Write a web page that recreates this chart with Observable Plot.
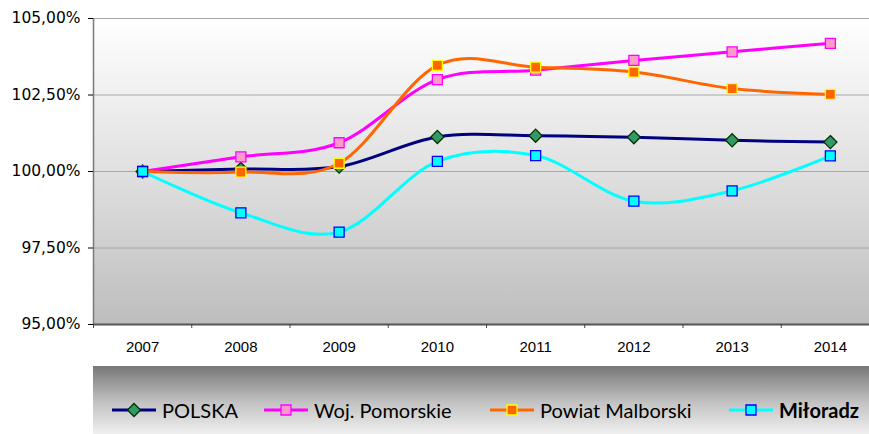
<!DOCTYPE html>
<html><head><meta charset="utf-8">
<script src="https://cdn.jsdelivr.net/npm/d3@7"></script>
<script src="https://cdn.jsdelivr.net/npm/@observablehq/plot@0.6"></script>
<style>
body{margin:0;background:#fff;width:869px;height:434px;overflow:hidden;position:relative;}
#chart{position:absolute;left:0;top:0;}
#legend{position:absolute;left:93px;top:366px;width:776px;height:68px;background:linear-gradient(#777777,#c4c4c4 55%,#efefef);}
.item{position:absolute;top:34px;height:20px;display:flex;align-items:center;font-family:Lato,"Open Sans",sans-serif;font-size:20px;color:#000;white-space:nowrap;}
.item svg{display:block;margin-right:5px;}
</style></head>
<body>
<div id="chart"></div>
<div id="legend"></div>
<script>
const years = [2007, 2008, 2009, 2010, 2011, 2012, 2013, 2014];
const seriesNames = ["POLSKA", "Woj. Pomorskie", "Powiat Malborski", "Miłoradz"];
const polska   = [100, 100.08, 100.16, 101.13, 101.17, 101.12, 101.02, 100.96];
const pomorskie = [100, 100.48, 100.94, 103.00, 103.31, 103.63, 103.91, 104.19];
const malborski = [100, 99.98, 100.27, 103.47, 103.41, 103.25, 102.71, 102.52];
const miloradz = [100, 98.65, 98.02, 100.33, 100.52, 99.03, 99.37, 100.51];
const yTicks = [95, 97.5, 100, 102.5, 105];

const values = [polska, pomorskie, malborski, miloradz];
const lineColors = ["#000080", "#ff00ff", "#ff6600", "#00ffff"];
const markerFill = ["#339966", "#ff99cc", "#ff6600", "#00ffff"];
const markerStroke = ["#003300", "#ff00ff", "#ffff00", "#0000ff"];
const markerSymbol = ["diamond2", "square", "square", "square"];
const markerR = [5.9, 5.64, 5.64, 5.64];

const rows = seriesNames.flatMap((s, i) => years.map((y, j) => ({series: s, year: y, value: values[i][j]})));
const halfYears = years.map(y => y - 0.5).concat([years[years.length - 1] + 0.5]);

const seriesMarks = seriesNames.flatMap((s, i) => {
  const d = rows.filter(r => r.series === s);
  return [
    Plot.line(d, {x: "year", y: "value", stroke: lineColors[i], strokeWidth: 3, curve: "cardinal"}),
    Plot.dot(d, {x: "year", y: "value", symbol: markerSymbol[i], r: markerR[i], fill: markerFill[i], stroke: markerStroke[i], strokeWidth: 1.3})
  ];
});

const chart = Plot.plot({
  width: 869, height: 366,
  marginLeft: 93, marginRight: 0, marginTop: 18, marginBottom: 42,
  x: {type: "linear", domain: [2006.5, 2014.5], range: [93, 879], label: null},
  y: {domain: [95, 105], label: null},
  style: {background: "transparent", color: "#000", overflow: "visible"},
  marks: [
    Plot.frame({fill: "url(#plotbg)", stroke: null}),
    Plot.ruleY(yTicks, {stroke: "#a8a8a8", strokeWidth: 1}),
    Plot.ruleX([2006.5], {stroke: "#7a7a7a", strokeWidth: 1.5}),
    Plot.ruleY([95], {stroke: "#555555", strokeWidth: 2}),
    Plot.axisY({ticks: yTicks, tickFormat: d => d.toFixed(2).replace(".", ",") + "%", tickSize: 5, tickPadding: 8,
      fontFamily: "DejaVu Sans", fontSize: 15.5, label: null}),
    Plot.axisX({ticks: years, tickFormat: d => String(d), tickSize: 0, tickPadding: 17,
      fontFamily: "Liberation Sans", fontSize: 15, label: null}),
    Plot.axisX({ticks: halfYears, tickFormat: () => "", tickSize: 4, stroke: "#444", label: null}),
    ...seriesMarks
  ]
});
d3.select(chart).insert("defs", ":first-child").html(
  '<linearGradient id="plotbg" x1="0" y1="0" x2="0" y2="1">' +
  '<stop offset="0" stop-color="#ffffff"/><stop offset="0.5" stop-color="#e0e0e0"/><stop offset="1" stop-color="#bdbdbd"/></linearGradient>');
document.getElementById("chart").append(chart);

// legend
const legendLeft = [18, 170, 396, 635];
const legend = d3.select("#legend");
seriesNames.forEach((s, i) => {
  const item = legend.append("div").attr("class", "item").style("left", legendLeft[i] + "px");
  const sw = item.append("svg").attr("width", 46).attr("height", 20);
  sw.append("line").attr("x1", 1).attr("x2", 45).attr("y1", 10).attr("y2", 10)
    .attr("stroke", lineColors[i]).attr("stroke-width", 3);
  const size = Math.PI * markerR[i] * markerR[i];
  const sym = markerSymbol[i] === "diamond2" ? d3.symbolDiamond2 : d3.symbolSquare;
  sw.append("path").attr("transform", "translate(23,10)").attr("d", d3.symbol(sym, size)())
    .attr("fill", markerFill[i]).attr("stroke", markerStroke[i]).attr("stroke-width", 1.3);
  item.append("span").text(s).style("font-weight", i === 3 ? "bold" : "normal");
});
</script>
</body></html>
